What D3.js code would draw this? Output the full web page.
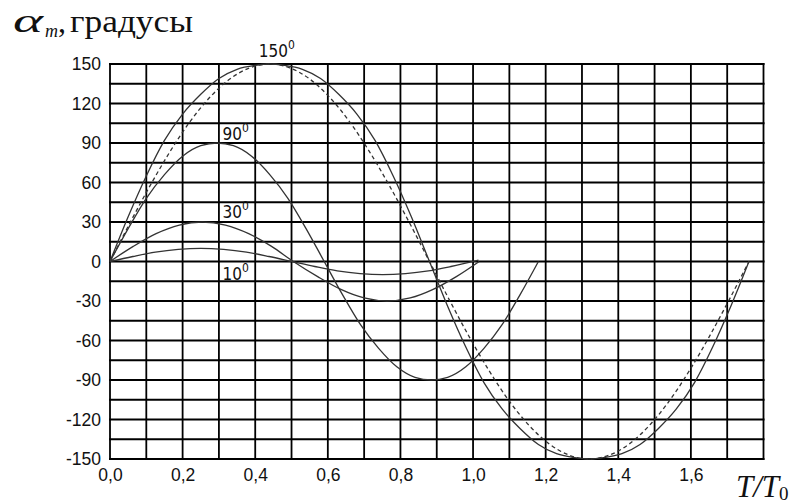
<!DOCTYPE html>
<html>
<head>
<meta charset="utf-8">
<script src="https://cdn.jsdelivr.net/npm/d3@7"></script>
<style>
  body { margin: 0; background: #fff; }
  text { fill: #111; }
</style>
</head>
<body>
<script>
// time axis, T/T0
var t150 = [0, 0.05, 0.10, 0.15, 0.20, 0.25, 0.30, 0.35, 0.40, 0.44, 0.48, 0.53, 0.58, 0.63, 0.68, 0.73, 0.78, 0.83, 0.88,
  0.93, 0.98, 1.03, 1.08, 1.13, 1.18, 1.23, 1.28, 1.32, 1.36, 1.41, 1.46, 1.51, 1.56, 1.61, 1.66, 1.71, 1.76];
var a150 = [0, 34, 65, 92, 112, 127, 139, 146, 149, 150, 149, 146, 139, 127, 112, 92, 65, 34, 0,
  -34, -65, -92, -112, -127, -139, -146, -149, -150, -149, -146, -139, -127, -112, -92, -65, -34, 0];

var t90 = [0, 0.05, 0.10, 0.15, 0.20, 0.25, 0.295, 0.34, 0.39, 0.44, 0.49, 0.54, 0.59,
  0.64, 0.69, 0.74, 0.79, 0.84, 0.885, 0.93, 0.98, 1.03, 1.08, 1.13, 1.18];
var a90 = [0, 25, 48, 66, 80, 88, 90, 88, 80, 66, 48, 25, 0,
  -25, -48, -66, -80, -88, -90, -88, -80, -66, -48, -25, 0];

var t30 = [0, 0.064, 0.127, 0.191, 0.254, 0.318, 0.382, 0.445, 0.505, 0.572, 0.636, 0.700, 0.763, 0.827, 0.890, 0.954, 1.017];
var a30 = [0, 11.5, 21.2, 27.7, 30, 27.7, 21.2, 11.5, 0, -11.5, -21.2, -27.7, -30, -27.7, -21.2, -11.5, 0];

var t10 = [0, 0.063, 0.125, 0.188, 0.25, 0.313, 0.376, 0.438, 0.501, 0.564, 0.626, 0.689, 0.751, 0.814, 0.877, 0.939, 1.015];
var a10 = [0, 3.8, 7.1, 9.2, 10, 9.2, 7.1, 3.8, 0, -3.8, -7.1, -9.2, -10, -9.2, -7.1, -3.8, 1];

// harmonic approximation for 150 deg (dashed)
var tSin = [0, 0.055, 0.11, 0.165, 0.22, 0.275, 0.33, 0.385, 0.44, 0.495, 0.55, 0.605, 0.66, 0.715, 0.77, 0.825, 0.88,
  0.935, 0.99, 1.045, 1.10, 1.155, 1.21, 1.265, 1.32, 1.375, 1.43, 1.485, 1.54, 1.595, 1.65, 1.705, 1.76];
var aSin = [0, 29.3, 57.4, 83.3, 106.1, 124.7, 138.6, 147.1, 150, 147.1, 138.6, 124.7, 106.1, 83.3, 57.4, 29.3, 0,
  -29.3, -57.4, -83.3, -106.1, -124.7, -138.6, -147.1, -150, -147.1, -138.6, -124.7, -106.1, -83.3, -57.4, -29.3, 0];

var xTicks = [0, 0.2, 0.4, 0.6, 0.8, 1.0, 1.2, 1.4, 1.6];
var yTicks = [150, 120, 90, 60, 30, 0, -30, -60, -90, -120, -150];

var curveLabels = [
  {name: "150", t: 0.41, a: 155},
  {name: "90", t: 0.31, a: 92},
  {name: "30", t: 0.31, a: 33},
  {name: "10", t: 0.31, a: -14}
];

var svg = d3.select("body").append("svg")
  .attr("width", 794)
  .attr("height", 504);

var x = d3.scaleLinear().domain([0, 1.8]).range([110, 763.5]);
var y = d3.scaleLinear().domain([-150, 150]).range([459, 64]);

// grid
var grid = svg.append("g");
grid.selectAll("line.v")
  .data(d3.range(0, 19))
  .enter().append("line")
  .attr("x1", function(d) { return x(d / 10); })
  .attr("x2", function(d) { return x(d / 10); })
  .attr("y1", y(150) - 1)
  .attr("y2", y(-150) + 1)
  .attr("stroke", "#000")
  .attr("stroke-width", 1.8);
grid.selectAll("line.h")
  .data(d3.range(-10, 11))
  .enter().append("line")
  .attr("x1", x(0) - 1)
  .attr("x2", x(1.8) + 1)
  .attr("y1", function(d) { return y(d * 15); })
  .attr("y2", function(d) { return y(d * 15); })
  .attr("stroke", "#000")
  .attr("stroke-width", 1.8);

// axes, labels only
var comma = function(d) { return d3.format(".1f")(d).replace(".", ","); };
var plain = function(d) { return String(d); };
var xAxis = svg.append("g")
  .attr("transform", "translate(0," + y(-150) + ")")
  .call(d3.axisBottom(x).tickValues(xTicks).tickSize(0).tickPadding(10).tickFormat(comma));
var yAxis = svg.append("g")
  .attr("transform", "translate(" + x(0) + ",0)")
  .call(d3.axisLeft(y).tickValues(yTicks).tickSize(0).tickPadding(9).tickFormat(plain));
[xAxis, yAxis].forEach(function(g) {
  g.select(".domain").remove();
  g.attr("font-size", null).attr("font-family", null);
  g.selectAll("text")
    .style("font-family", "'Liberation Sans', Arial, sans-serif")
    .style("font-size", "17.5px")
    .attr("fill", "#111");
});

// curves
var line = d3.line()
  .x(function(d) { return x(d[0]); })
  .y(function(d) { return y(d[1]); })
  .curve(d3.curveMonotoneX);

var series = [
  {t: t150, a: a150, dash: null},
  {t: t90, a: a90, dash: null},
  {t: t30, a: a30, dash: null},
  {t: t10, a: a10, dash: null},
  {t: tSin, a: aSin, dash: "4,3"}
];
svg.selectAll("path.curve")
  .data(series)
  .enter().append("path")
  .attr("class", "curve")
  .attr("d", function(s) { return line(d3.zip(s.t, s.a)); })
  .attr("fill", "none")
  .attr("stroke", "#333")
  .attr("stroke-width", 1.3)
  .attr("stroke-dasharray", function(s) { return s.dash; });

// curve labels with degree superscript
var lab = svg.selectAll("text.clabel")
  .data(curveLabels)
  .enter().append("text")
  .attr("class", "clabel")
  .attr("x", function(d) { return x(d.t); })
  .attr("y", function(d) { return y(d.a); })
  .style("font-family", "'DejaVu Sans Condensed', 'DejaVu Sans', sans-serif")
  .style("font-size", "17px")
  .attr("fill", "#111");
lab.append("tspan").text(function(d) { return d.name; });
lab.append("tspan").attr("dy", -8).style("font-size", "12px").text("0");

// title
var title = svg.append("g")
  .style("font-family", "'Liberation Serif', 'Times New Roman', serif")
  .attr("fill", "#111");
title.append("text")
  .attr("x", 13).attr("y", 32)
  .style("font-size", "34px").style("font-style", "italic")
  .attr("textLength", 30).attr("lengthAdjust", "spacingAndGlyphs")
  .text("α");
title.append("text")
  .attr("x", 45).attr("y", 37)
  .style("font-size", "18px").style("font-style", "italic")
  .text("m");
title.append("text")
  .attr("x", 58).attr("y", 32)
  .style("font-size", "32px")
  .text(",");
title.append("text")
  .attr("x", 70).attr("y", 32)
  .style("font-size", "32px")
  .attr("textLength", 123).attr("lengthAdjust", "spacingAndGlyphs")
  .text("градусы");

// x axis name
var xname = svg.append("text")
  .attr("x", 736)
  .attr("y", 497)
  .style("font-family", "'Liberation Serif', 'Times New Roman', serif")
  .style("font-size", "31px")
  .style("font-style", "italic")
  .attr("fill", "#111");
xname.append("tspan").text("T/T");
xname.append("tspan").style("font-size", "19px").attr("dy", 3).style("font-style", "normal").text("0");
</script>
</body>
</html>
